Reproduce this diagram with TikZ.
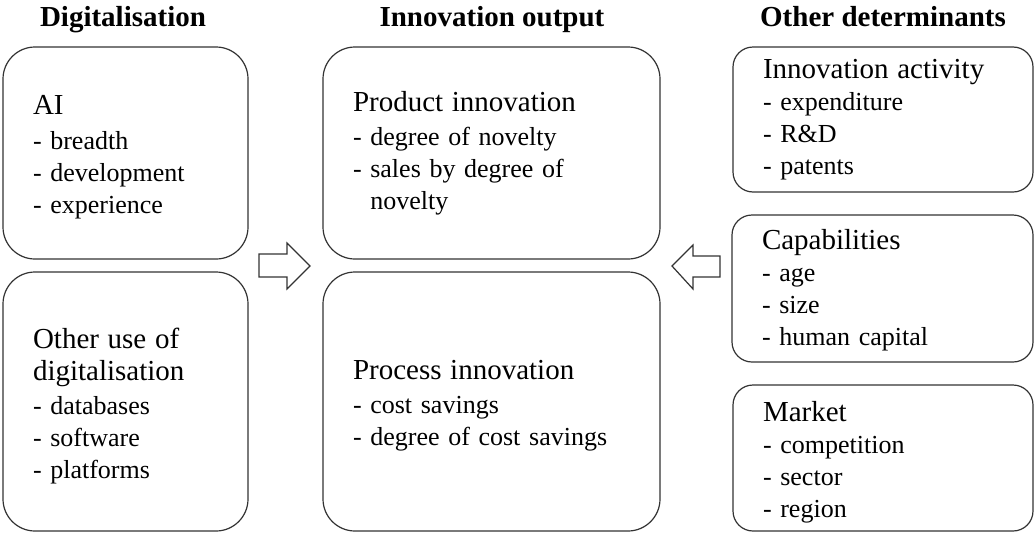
\documentclass[tikz,border=0pt]{standalone}
\usepackage{fontspec}
\setmainfont{Liberation Serif}
\newcommand{\itemsize}{\fontsize{26}{32}\selectfont}
\newcommand{\titlesize}{\fontsize{29}{32}\selectfont}

\begin{document}
\begin{tikzpicture}[x=1pt,y=-1pt,line join=miter]
	
	% Styles for the boxes and the column headings
	\tikzset{
		bigbox/.style={rectangle,rounded corners=32pt,draw=black!80,line width=1.2pt,
			inner xsep=0pt,align=left,font=\itemsize},
		smallbox/.style={rectangle,rounded corners=20pt,draw=black!80,line width=1.2pt,
			inner xsep=0pt,align=left,font=\itemsize},
		% extra space under the text: positive lifts it, negative lowers it
		textshift/.style={execute at end node={\par\vspace*{#1}}},
		heading/.style={anchor=base,font=\fontsize{29}{32}\selectfont\bfseries},
		blockarrow/.style={draw=black!80,line width=1.2pt,fill=white}
	}
	
	\useasboundingbox (0,0) rectangle (1035,533);
	
	%========================================
	% Headings
	%========================================
	\node[heading] (HDig) at (123,26) {Digitalisation};
	\node[heading] (HOut) at (492,26) {Innovation output};
	\node[heading] (HDet) at (883,26) {Other determinants};
	
	%========================================
	% Left column: digitalisation
	%========================================
	\node[bigbox,textshift=-8pt,minimum width=245pt,minimum height=212pt,text width=185pt]
	(AI) at (125.5,153) {{\titlesize AI}\\[3pt]
		- breadth\\ - development\\ - experience};
	\node[bigbox,textshift=-10pt,minimum width=245pt,minimum height=259pt,text width=185pt]
	(OtherUse) at (125.5,401.5) {{\titlesize Other use of}\\
		{\titlesize digitalisation}\\[2pt]
		- databases\\ - software\\ - platforms};
	
	%========================================
	% Middle column: innovation output
	%========================================
	\node[bigbox,minimum width=337pt,minimum height=212pt,text width=277pt]
	(Product) at (491.5,153) {{\titlesize Product innovation}\\[2pt]
		- degree of novelty\\ - sales by degree of\\ \hphantom{- }novelty};
	\node[bigbox,textshift=-8pt,minimum width=337pt,minimum height=259pt,text width=277pt]
	(Process) at (491.5,401.5) {{\titlesize Process innovation}\\[2pt]
		- cost savings\\ - degree of cost savings};
	
	%========================================
	% Right column: other determinants
	%========================================
	\node[smallbox,minimum width=300pt,minimum height=145pt,text width=240pt]
	(Activity) at (883,119.5) {{\titlesize Innovation activity}\\
		- expenditure\\ - R\&D\\ - patents};
	\node[smallbox,textshift=-3pt,minimum width=301pt,minimum height=147pt,text width=241pt]
	(Capab) at (882.5,288.5) {{\titlesize Capabilities}\\
		- age\\ - size\\ - human capital};
	\node[smallbox,textshift=-8pt,minimum width=300pt,minimum height=146pt,text width=240pt]
	(Market) at (883,458) {{\titlesize Market}\\
		- competition\\ - sector\\ - region};
	
	%========================================
	% Block arrows towards the innovation output
	%========================================
	\draw[blockarrow] (259,254) -- (287,254) -- (287,243) -- (310,266)
	-- (287,289) -- (287,277) -- (259,277) -- cycle;
	\draw[blockarrow] (720,256) -- (693,256) -- (693,245) -- (672,266)
	-- (693,289) -- (693,277) -- (720,277) -- cycle;
	
\end{tikzpicture}
\end{document}
